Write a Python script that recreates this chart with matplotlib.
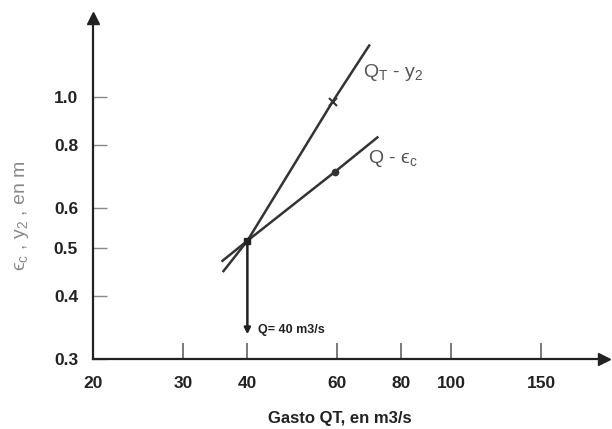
import matplotlib
matplotlib.use("Agg")
import matplotlib.pyplot as plt
from matplotlib.ticker import FixedLocator, FixedFormatter, NullLocator

plt.rcParams['font.family'] = ['Liberation Sans', 'DejaVu Sans']
plt.rcParams['mathtext.fontset'] = 'custom'
plt.rcParams['mathtext.rm'] = 'Liberation Sans'
plt.rcParams['mathtext.it'] = 'Liberation Sans'

# ---- data ----
x_ticks = [20, 30, 40, 60, 80, 100, 150]
x_tick_labels = ['20', '30', '40', '60', '80', '100', '150']
y_ticks = [0.3, 0.4, 0.5, 0.6, 0.8, 1.0]
y_tick_labels = ['0.3', '0.4', '0.5', '0.6', '0.8', '1.0']

q_qt_y2 = [35.8, 40, 58.7, 69.4]       # Q_T - y2 line
y2_vals = [0.447, 0.516, 0.977, 1.27]
q_q_ec = [35.6, 40, 59.3, 72.1]        # Q - eps_c line
ec_vals = [0.469, 0.516, 0.708, 0.832]

q_design = 40          # intersection discharge
y_design = 0.516
y_arrow_end = 0.336

x_range = (20, 199)
y_range = (0.3, 1.434)

fig = plt.figure(figsize=(6.12, 4.29), dpi=100)
ax = fig.add_axes([93.3 / 612, 70 / 429, (604 - 93.3) / 612, (359 - 18) / 429])
ax.set_xscale('log')
ax.set_yscale('log')
ax.set_xlim(*x_range)
ax.set_ylim(*y_range)

for s in ('top', 'right'):
    ax.spines[s].set_visible(False)
for s in ('left', 'bottom'):
    ax.spines[s].set_linewidth(1.6)
    ax.spines[s].set_color('#222222')

# axis arrowheads
ax.plot(1, 0, '>', color='#222222', markersize=8, transform=ax.transAxes, clip_on=False)
ax.plot(0, 1, '^', color='#222222', markersize=9, transform=ax.transAxes, clip_on=False)

ax.xaxis.set_major_locator(FixedLocator(x_ticks))
ax.xaxis.set_major_formatter(FixedFormatter(x_tick_labels))
ax.yaxis.set_major_locator(FixedLocator(y_ticks))
ax.yaxis.set_major_formatter(FixedFormatter(y_tick_labels))
ax.xaxis.set_minor_locator(NullLocator())
ax.yaxis.set_minor_locator(NullLocator())

ax.tick_params(axis='x', direction='in', length=11.5, width=1.1, color='#555555',
               pad=12, labelsize=12.5)
ax.tick_params(axis='y', direction='in', length=10, width=1.0, color='#888888',
               pad=11, labelsize=12.5)
for lab in ax.get_xticklabels() + ax.get_yticklabels():
    lab.set_fontweight('bold')
    lab.set_color('#222222')
for i, tl in enumerate(ax.xaxis.get_ticklines()):
    tk = x_ticks[i // 2]
    if tk in (30, 40):
        tl.set_color('#aaaaaa')

# lines
line_color = '#333333'
ax.plot(q_qt_y2, y2_vals, color=line_color, lw=1.8, solid_capstyle='butt')
ax.plot(q_q_ec, ec_vals, color=line_color, lw=1.8, solid_capstyle='butt')
ax.plot(q_qt_y2[2], y2_vals[2], marker='x', color=line_color, markersize=6, mew=1.5)
ax.plot(q_q_ec[2], ec_vals[2], marker='o', color=line_color, markersize=4.5)
ax.plot(q_design, y_design, marker='s', color='#222222', markersize=5)

# design arrow
ax.annotate('', xy=(q_design, y_arrow_end), xytext=(q_design, y_design),
            arrowprops=dict(arrowstyle='-|>', color='#222222', lw=1.8,
                            mutation_scale=9, shrinkA=0, shrinkB=0))
ax.annotate('Q= 40 m3/s', xy=(q_design, y_arrow_end), xytext=(7.5, 3),
            textcoords='offset points', fontsize=9, fontweight='bold',
            color='#222222', ha='left', va='center')

# line labels
ax.annotate(r'Q$_\mathregular{T}$ - y$_\mathregular{2}$', xy=(q_qt_y2[-1], y2_vals[-1]),
            xytext=(-5, -20), textcoords='offset points', fontsize=14,
            color='#555555', ha='left', va='center')
ax.annotate('Q - \u03f5$_\\mathregular{c}$', xy=(q_q_ec[-1], ec_vals[-1]),
            xytext=(-7.5, -15.5), textcoords='offset points', fontsize=14,
            color='#555555', ha='left', va='center')

# axis labels
fig.text(340 / 612, 1 - 418 / 429, 'Gasto QT, en m3/s', fontsize=12, fontweight='bold',
         color='#222222', ha='center', va='center')
fig.text(22 / 612, 1 - 216 / 429, '\u03f5$_\\mathregular{c}$ , y$_\\mathregular{2}$ , en m',
         fontsize=14, color='#8a8a8a', rotation=90, ha='center', va='center')

fig.savefig('out.png', dpi=100)
